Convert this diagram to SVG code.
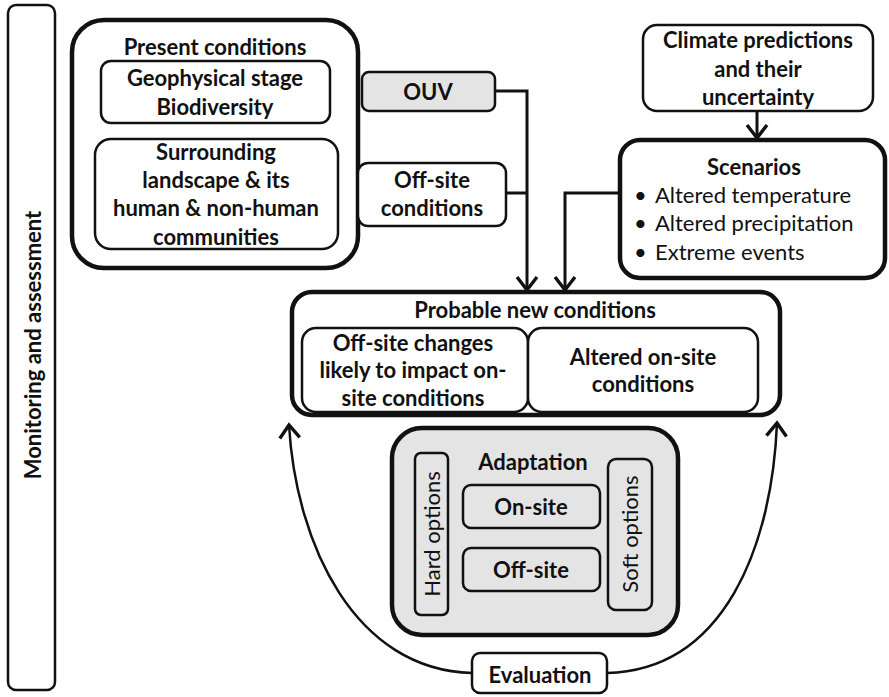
<svg xmlns="http://www.w3.org/2000/svg" width="889" height="697" viewBox="0 0 889 697">
<defs>
<style>
.t{font-family:Lato,"Liberation Sans",sans-serif;font-size:22px;font-weight:bold;fill:#111;text-anchor:middle}
.r{font-weight:normal}
.l{text-anchor:start}
.box{fill:#fff;stroke:#111;stroke-width:2.5}
.thick{fill:#fff;stroke:#111;stroke-width:4.5}
.grey{fill:#e4e4e4}
.c{fill:none;stroke:#111;stroke-width:3}
</style>
<marker id="ah" viewBox="0 0 24 24" refX="21" refY="12" markerWidth="24" markerHeight="24" markerUnits="userSpaceOnUse" orient="auto">
<path d="M8,2 L21,12 L8,22" fill="none" stroke="#111" stroke-width="3.4" stroke-linejoin="miter"/>
</marker>
</defs>
<rect width="889" height="697" fill="#fff"/>

<g id="connectors">
<path class="c" d="M330,91 H360"/>
<path class="c" d="M338,193 H360"/>
<path class="c" d="M495,91 H527 V290" marker-end="url(#ah)"/>
<path class="c" d="M506,193 H527"/>
<path class="c" d="M620,193 H565 V290" marker-end="url(#ah)"/>
<path class="c" d="M757,111 V138" marker-end="url(#ah)"/>
<path class="c" d="M472,673 C355,670 296,545 289,425" marker-end="url(#ah)" style="stroke-width:2.5"/>
<path class="c" d="M607,673 C725,670 772,545 777,423" marker-end="url(#ah)" style="stroke-width:2.5"/>
</g>

<g id="monitoring">
<rect class="box" x="8" y="5" width="47" height="685" rx="8"/>
<text class="t" transform="translate(41,345) rotate(-90)">Monitoring and assessment</text>
</g>

<g id="present">
<rect class="thick" x="72" y="20" width="286" height="248" rx="32"/>
<text class="t" x="215" y="55">Present conditions</text>
</g>
<g id="geophysical">
<rect class="box" x="101" y="61" width="229" height="62" rx="10"/>
<text class="t" x="215" y="86">Geophysical stage</text>
<text class="t" x="215" y="115">Biodiversity</text>
</g>
<g id="surrounding">
<rect class="box" x="95" y="139" width="243" height="110" rx="16"/>
<text class="t" x="216" y="160">Surrounding</text>
<text class="t" x="216" y="188">landscape &amp; its</text>
<text class="t" x="216" y="216">human &amp; non-human</text>
<text class="t" x="216" y="245">communities</text>
</g>

<g id="ouv">
<rect class="box grey" x="362" y="72" width="133" height="39" rx="7"/>
<text class="t" x="428" y="100">OUV</text>
</g>
<g id="offsite-conditions">
<rect class="box" x="358" y="163" width="148" height="63" rx="10"/>
<text class="t" x="432" y="188">Off-site</text>
<text class="t" x="432" y="216">conditions</text>
</g>

<g id="climate">
<rect class="box" x="643" y="25" width="230" height="86" rx="14"/>
<text class="t" x="758" y="48">Climate predictions</text>
<text class="t" x="758" y="77">and their</text>
<text class="t" x="758" y="105">uncertainty</text>
</g>

<g id="scenarios">
<rect class="thick" x="620" y="140" width="265" height="138" rx="20"/>
<text class="t" x="754" y="175">Scenarios</text>
<text class="t r l" x="634" y="203">•</text>
<text class="t r l" x="655" y="203">Altered temperature</text>
<text class="t r l" x="634" y="231">•</text>
<text class="t r l" x="655" y="231">Altered precipitation</text>
<text class="t r l" x="634" y="260">•</text>
<text class="t r l" x="655" y="260">Extreme events</text>
</g>

<g id="probable">
<rect class="thick" x="292" y="292" width="488" height="123" rx="20"/>
<text class="t" x="535" y="318">Probable new conditions</text>
</g>
<g id="offsite-changes">
<rect class="box" x="302" y="328" width="226" height="84" rx="14"/>
<text class="t" x="413" y="351">Off-site changes</text>
<text class="t" x="413" y="378">likely to impact  on-</text>
<text class="t" x="413" y="406">site conditions</text>
</g>
<g id="altered-onsite">
<rect class="box" x="528" y="328" width="230" height="84" rx="14"/>
<text class="t" x="643" y="365">Altered on-site</text>
<text class="t" x="643" y="392">conditions</text>
</g>

<g id="adaptation">
<rect class="thick grey" x="392" y="428" width="286" height="207" rx="30"/>
<text class="t" x="533" y="470">Adaptation</text>
</g>
<g id="hard-options">
<rect class="box grey" x="415" y="453" width="33" height="162" rx="6"/>
<text class="t r" transform="translate(440,534) rotate(-90)">Hard options</text>
</g>
<g id="soft-options">
<rect class="box grey" x="608" y="459" width="44" height="151" rx="8"/>
<text class="t r" transform="translate(638,534) rotate(-90)">Soft options</text>
</g>
<g id="onsite">
<rect class="box grey" x="463" y="485" width="137" height="43" rx="8"/>
<text class="t" x="531" y="515">On-site</text>
</g>
<g id="offsite">
<rect class="box grey" x="463" y="548" width="137" height="43" rx="8"/>
<text class="t" x="531" y="578">Off-site</text>
</g>

<g id="evaluation">
<rect class="box" x="472" y="653" width="135" height="40" rx="8"/>
<text class="t" x="540" y="683">Evaluation</text>
</g>
</svg>
